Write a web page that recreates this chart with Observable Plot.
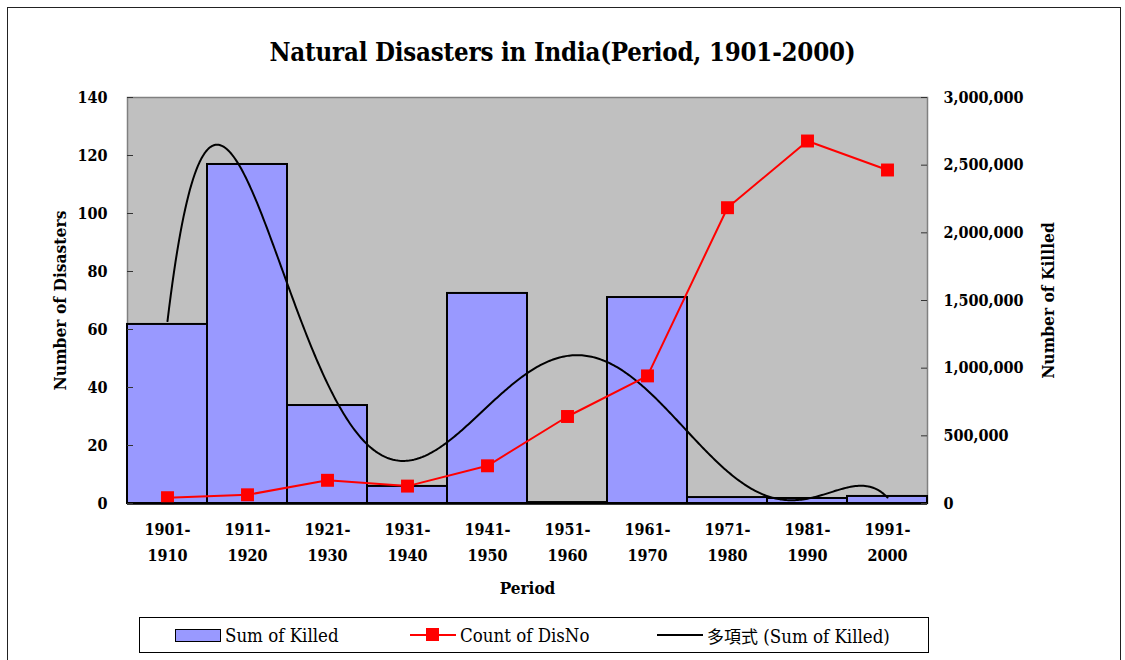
<!DOCTYPE html>
<html>
<head>
<meta charset="utf-8">
<script src="https://cdn.jsdelivr.net/npm/d3@7"></script>
<script src="https://cdn.jsdelivr.net/npm/@observablehq/plot@0.6"></script>
<style>
  html, body { margin: 0; padding: 0; background: #fff; }
  #page { position: relative; width: 1125px; height: 660px; overflow: hidden;
    font-family: "DejaVu Serif Condensed", "DejaVu Serif", serif; color: #000; }
  #border { position: absolute; left: 7px; top: 7px; width: 1112px; height: 700px; border: 1.5px solid #222; }
  #title { position: absolute; left: 0; width: 1125px; top: 37px; text-align: center;
    font-size: 25.6px; font-weight: bold; letter-spacing: -0.2px; }
  #chart { position: absolute; left: 0; top: 80px; }
  #legend { position: absolute; left: 139px; top: 617px; width: 788px; height: 34px; border: 1px solid #000;
    font-size: 18.5px; }
  .li { position: absolute; top: 0; height: 34px; display: flex; align-items: center; }
  .sw-rect { width: 44px; height: 11px; background: #9999ff; border: 1.5px solid #000; margin-right: 4px; }
  .sw-line { position: relative; width: 46px; height: 2px; margin-right: 4px; }
  .sw-sq { position: absolute; left: 16px; top: -6px; width: 13px; height: 13px; background: #ff0000; }
  .cjk { font-family: "Noto Sans CJK JP", sans-serif; font-size: 17px; }
</style>
</head>
<body>
<div id="page">
  <div id="border"></div>
  <div id="title">Natural Disasters in India(Period, 1901-2000)</div>
  <div id="chart"></div>
  <div id="legend">
    <div class="li" style="left:35px"><div class="sw-rect"></div><span>Sum of Killed</span></div>
    <div class="li" style="left:270px"><div class="sw-line" style="background:#ff0000"><div class="sw-sq"></div></div><span>Count of DisNo</span></div>
    <div class="li" style="left:517px"><div class="sw-line" style="background:#000"></div><span><span class="cjk">多項式</span> (Sum of Killed)</span></div>
  </div>
</div>
<script>
// ---- data ----
const periodStart = ["1901-", "1911-", "1921-", "1931-", "1941-", "1951-", "1961-", "1971-", "1981-", "1991-"];
const periodEnd   = ["1910", "1920", "1930", "1940", "1950", "1960", "1970", "1980", "1990", "2000"];
const sumKilled   = [1323000, 2505000, 724000, 126000, 1552000, 7000, 1522000, 44000, 37000, 52000];
const countDisNo  = [2, 3, 8, 6, 13, 30, 44, 102, 125, 115];
const leftTicks   = [0, 20, 40, 60, 80, 100, 120, 140];
const rightTicks  = [0, 500000, 1000000, 1500000, 2000000, 2500000, 3000000];

const leftMax = 140, rightMax = 3000000;
const k = leftMax / rightMax; // map killed onto the left (count) scale
const idx = d3.range(periodStart.length);

// 6th-order polynomial trendline of Sum of Killed (least squares, x = 1..10)
function polyfit(xs, ys, deg) {
  const n = deg + 1;
  const A = Array.from({length: n}, () => new Array(n + 1).fill(0));
  const c0 = (xs[0] + xs[xs.length - 1]) / 2, s0 = (xs[xs.length - 1] - xs[0]) / 2;
  for (let p = 0; p < xs.length; p++) {
    const t = (xs[p] - c0) / s0;
    const pw = []; for (let j = 0; j < n; j++) pw.push(Math.pow(t, j));
    for (let r = 0; r < n; r++) {
      for (let c = 0; c < n; c++) A[r][c] += pw[r] * pw[c];
      A[r][n] += pw[r] * ys[p];
    }
  }
  for (let c = 0; c < n; c++) {
    let piv = c;
    for (let r = c + 1; r < n; r++) if (Math.abs(A[r][c]) > Math.abs(A[piv][c])) piv = r;
    [A[c], A[piv]] = [A[piv], A[c]];
    for (let r = 0; r < n; r++) {
      if (r === c) continue;
      const f = A[r][c] / A[c][c];
      for (let q = c; q <= n; q++) A[r][q] -= f * A[c][q];
    }
  }
  const coef = A.map((row, i) => row[n] / row[i]);
  return x => { const t = (x - c0) / s0; return coef.reduce((s, a, j) => s + a * Math.pow(t, j), 0); };
}
const xs = idx.map(i => i + 1);
const trend = polyfit(xs, sumKilled, 6);
const curve = d3.range(1, 10.0001, 0.02).map(x => ({x, y: trend(x) * k}));

const chart = Plot.plot({
  width: 1125,
  height: 520,
  marginLeft: 127,
  marginRight: 198,
  marginTop: 17,
  marginBottom: 97,
  x: {domain: [0.5, 10.5], axis: null},
  y: {domain: [0, leftMax], axis: null},
  style: {fontFamily: '"DejaVu Serif Condensed", "DejaVu Serif", serif', fontSize: "16px", fontWeight: "bold", color: "#000", background: "transparent", overflow: "visible"},
  marks: [
    Plot.frame({fill: "#c0c0c0", stroke: "#808080", strokeWidth: 1.5}),
    Plot.rectY(idx, {x1: i => i + 0.5, x2: i => i + 1.5, y1: 0, y2: i => sumKilled[i] * k,
      fill: "#9999ff", stroke: "#000", strokeWidth: 2}),
    Plot.line(curve, {x: "x", y: "y", stroke: "#000", strokeWidth: 2, clip: true}),
    Plot.line(idx, {x: i => i + 1, y: i => countDisNo[i], stroke: "#ff0000", strokeWidth: 2}),
    Plot.dot(idx, {x: i => i + 1, y: i => countDisNo[i], symbol: "square", r: 7.3, fill: "#ff0000", stroke: "none"}),
    Plot.ruleY([0], {stroke: "#000", strokeWidth: 2.5}),
    Plot.tickY(leftTicks, {y: d => d, stroke: "#333", strokeWidth: 1, insetRight: 794}),
    Plot.tickY(rightTicks.map(v => v * k), {y: d => d, stroke: "#333", strokeWidth: 1, insetLeft: 794}),
    Plot.axisY(leftTicks, {anchor: "left", tickSize: 0, tickPadding: 20, label: null}),
    Plot.axisY(rightTicks.map(v => v * k), {anchor: "right", tickSize: 0, tickPadding: 16,
      tickFormat: d => d3.format(",")(Math.round(d / k)), label: null}),
    Plot.axisX(xs, {anchor: "bottom", tickSize: 0, tickPadding: 20,
      tickFormat: x => periodStart[x - 1], label: null}),
    Plot.axisX(xs, {anchor: "bottom", tickSize: 0, tickPadding: 46,
      tickFormat: x => periodEnd[x - 1], label: null}),
    Plot.text(["Number of Disasters"], {text: d => d, frameAnchor: "left", dx: -67, rotate: -90,
      textAnchor: "middle", lineAnchor: "middle", fontSize: 17.3, fontWeight: "bold"}),
    Plot.text(["Number of Killled"], {text: d => d, frameAnchor: "right", dx: 121, rotate: -90,
      textAnchor: "middle", lineAnchor: "middle", fontSize: 17.3, fontWeight: "bold"}),
    Plot.text(["Period"], {text: d => d, frameAnchor: "bottom", dy: 85,
      lineAnchor: "middle", fontSize: 17, fontWeight: "bold"})
  ]
});
document.getElementById("chart").appendChild(chart);
</script>
</body>
</html>
